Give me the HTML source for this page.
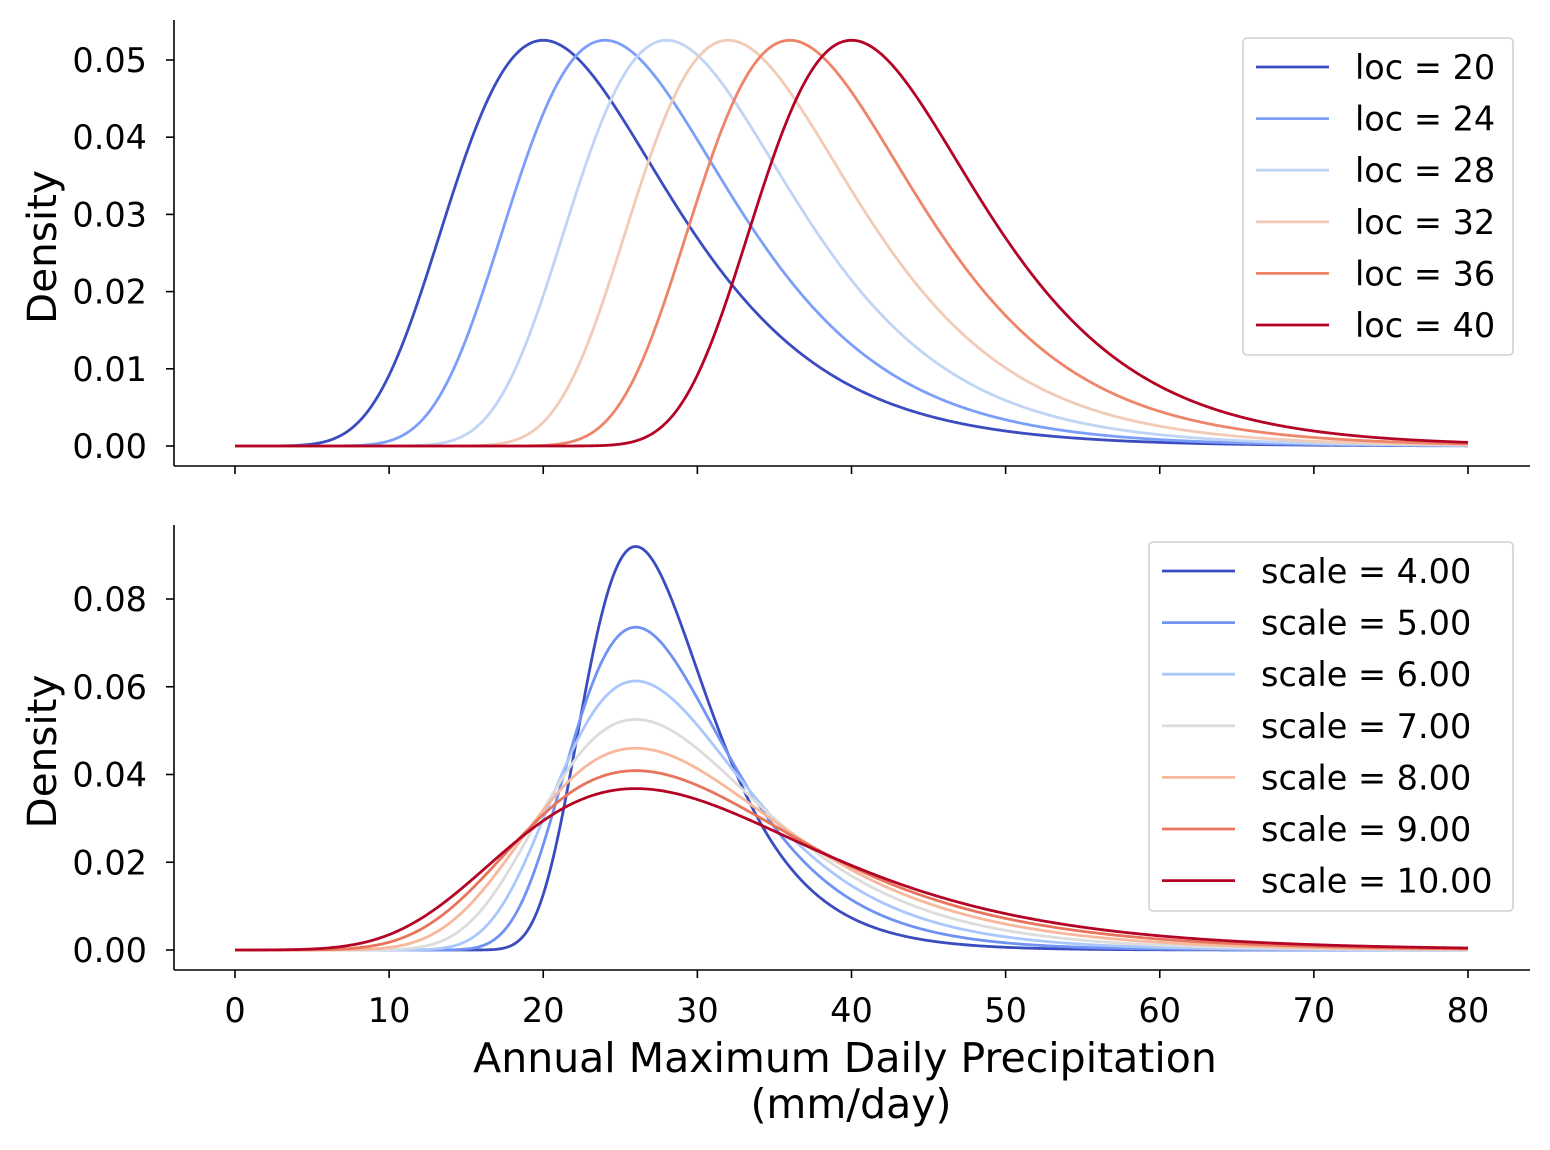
<!DOCTYPE html>
<html><head><meta charset="utf-8">
<style>
body{margin:0;background:#fff;}
svg{display:block;font-family:"DejaVu Sans","Liberation Sans",sans-serif;}
</style></head>
<body>
<svg id="chart" width="1550" height="1150" viewBox="0 0 1550 1150"></svg>
<script>
// Data: distribution parameters (Gumbel)
const topLocs = [20, 24, 28, 32, 36, 40];
const topScale = 7;
const topColors = ["#3b4cc0","#7b9ff9","#c0d4f5","#f2cbb7","#ee8468","#b40426"];
const botScales = [4, 5, 6, 7, 8, 9, 10];
const botLoc = 26;
const botColors = ["#3b4cc0","#6f92f3","#aac7fd","#dddcdc","#f7b89c","#e7745b","#b40426"];
const xTicks = [0,10,20,30,40,50,60,70,80];
const topYTicks = [0,0.01,0.02,0.03,0.04,0.05];
const botYTicks = [0,0.02,0.04,0.06,0.08];

const NS="http://www.w3.org/2000/svg";
const svg=document.getElementById('chart');
function mk(tag,attrs,parent){const e=document.createElementNS(NS,tag);for(const k in attrs)e.setAttribute(k,attrs[k]);(parent||svg).appendChild(e);return e;}
const X=v=>235+v*(1468-235)/80;
const Yt=v=>446-v*(446-60)/0.05;
const Yb=v=>950-v*(950-599)/0.08;
function pdf(x,mu,b){const z=(x-mu)/b;return Math.exp(-(z+Math.exp(-z)))/b;}
function curve(mu,b,Y,color,name){
  let d="";for(let i=0;i<=800;i++){const x=i*0.1;d+=(i?"L":"M")+X(x).toFixed(2)+","+Y(pdf(x,mu,b)).toFixed(2);}
  const p=mk('path',{d:d,fill:'none',stroke:color,'stroke-width':2.8});
  
  
}
function axes(top,bottom,Y,yticks,prefix,showXLabels){
  const g=mk('g',{});
  
  
  mk('line',{x1:174,y1:top,x2:174,y2:bottom,stroke:'#000','stroke-width':1.6},g);
  mk('line',{x1:174,y1:bottom,x2:1530,y2:bottom,stroke:'#000','stroke-width':1.6},g);
  yticks.forEach(v=>{
    mk('line',{x1:166,y1:Y(v),x2:174,y2:Y(v),stroke:'#000','stroke-width':1.6},g);
    const t=mk('text',{x:147,y:Y(v)+12,'text-anchor':'end',style:'font-size:33.5px'},g);t.textContent=v.toFixed(2);
    
    
  });
  xTicks.forEach(v=>{
    mk('line',{x1:X(v),y1:bottom,x2:X(v),y2:bottom+8,stroke:'#000','stroke-width':1.6},g);
    if(showXLabels){const t=mk('text',{x:X(v),y:bottom+52,'text-anchor':'middle',style:'font-size:33.5px'},g);t.textContent=v;
      
      }
  });
  const cy=(top+bottom)/2+4;
  const yl=mk('text',{x:56,y:cy,'text-anchor':'middle',style:'font-size:40.5px',transform:'rotate(-90 56 '+cy+')'},g);
  yl.textContent='Density';
  
  
}
function legend(x,y,w,h,labels,colors,prefix){
  const g=mk('g',{});
  
  
  mk('rect',{x:x,y:y,width:w,height:h,rx:4,fill:'#fff',stroke:'#d0d0d0','stroke-width':1.6},g);
  labels.forEach((l,i)=>{
    const cy=y+29+i*51.6;
    mk('line',{x1:x+13,y1:cy,x2:x+86,y2:cy,stroke:colors[i],'stroke-width':2.8},g);
    const t=mk('text',{x:x+112,y:cy+12,style:'font-size:33.5px'},g);t.textContent=l;
    
    
  });
}
axes(20,466,Yt,topYTicks,'top',false);
axes(525,970,Yb,botYTicks,'bottom',true);
topLocs.forEach((m,i)=>curve(m,topScale,Yt,topColors[i],'top-curve-loc-'+m));
botScales.forEach((s,i)=>curve(botLoc,s,Yb,botColors[i],'bottom-curve-scale-'+s));
legend(1243,38,270,317,topLocs.map(v=>'loc = '+v),topColors,'top');
legend(1149,542,364,369,botScales.map(v=>'scale = '+v.toFixed(2)),botColors,'bottom');
const xl1=mk('text',{x:845,y:1072,'text-anchor':'middle',style:'font-size:41px'});xl1.textContent='Annual Maximum Daily Precipitation';


const xl2=mk('text',{x:851,y:1118,'text-anchor':'middle',style:'font-size:41px'});xl2.textContent='(mm/day)';


</script>
</body></html>
